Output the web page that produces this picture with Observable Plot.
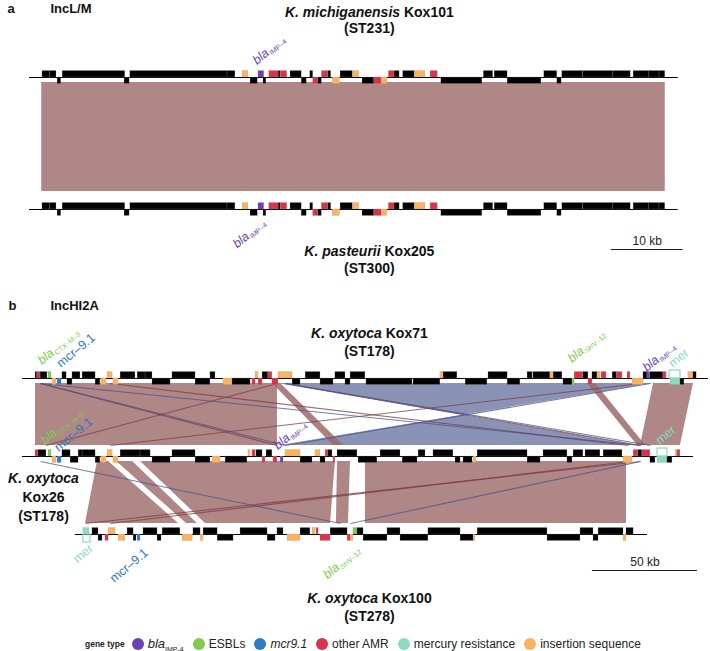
<!DOCTYPE html>
<html><head><meta charset="utf-8">
<script src="https://cdn.jsdelivr.net/npm/d3@7"></script>
<script src="https://cdn.jsdelivr.net/npm/@observablehq/plot@0.6"></script>
<style>
body{margin:0;background:#fff;font-family:"Liberation Sans",Arial,Helvetica,sans-serif;}
#fig{width:710px;}
#fig svg{display:block;}
.legend{display:flex;align-items:center;height:22px;padding-left:85px;font-size:12px;color:#222;white-space:nowrap;}
.legend .gt{font-weight:bold;font-size:8.5px;margin-right:7px;}
.legend .dot{display:inline-block;width:12px;height:12px;border-radius:50%;margin-right:4px;}
.legend .item{display:flex;align-items:center;margin-right:9px;}
.legend sub{font-size:7px;}
</style></head><body><div id="fig"></div><script>
// ---------------- colours ----------------
const GENE_COLORS = {b:"#000000", i:"#6b41b5", e:"#7dcc4c", m:"#2e7bbf", a:"#d7344c", h:"#89dcc2", s:"#fbb360"};
const BAND_COLORS = {f:"#ae8786", r:"#8a93b6", d:"#9d6a6a"};
const LINE_COLORS = {f:"#7d3b44", r:"#45528f"};

// ---------------- panel a data (kb) ----------------
const aLengths = [90.1, 90.1];
// [start, end, strand, type]
const kox101Genes = [[1.8,2.9,1,"b"],[2.9,3.75,1,"b"],[3.9,4.4,-1,"b"],[4.6,13.3,1,"b"],[13.2,13.9,-1,"b"],[14.0,27.5,1,"b"],[27.5,28.6,1,"b"],[29.6,30.4,1,"s"],[30.7,31.7,-1,"b"],[31.8,32.6,1,"i"],[32.5,32.9,-1,"b"],[33.3,34.6,1,"a"],[34.6,34.9,1,"b"],[34.9,35.8,1,"a"],[36.25,37.8,1,"b"],[37.8,38.5,-1,"b"],[39.0,39.4,1,"b"],[39.4,40.1,-1,"a"],[40.1,40.6,-1,"b"],[40.6,41.5,1,"a"],[41.5,41.9,1,"b"],[42.1,43.1,-1,"s"],[43.2,44.9,1,"b"],[45.0,45.8,1,"s"],[46.25,47.9,-1,"b"],[47.9,48.9,-1,"a"],[48.9,49.7,-1,"s"],[49.9,50.7,1,"a"],[50.7,51.4,1,"b"],[51.9,53.5,1,"b"],[53.5,55.0,1,"s"],[55.7,56.7,1,"a"],[57.2,62.9,-1,"b"],[63.1,64.4,1,"b"],[64.6,66.4,1,"b"],[66.4,71.1,-1,"b"],[71.5,73.3,1,"b"],[73.3,73.9,-1,"b"],[74.0,76.9,1,"b"],[76.9,81.1,1,"b"],[81.1,83.5,1,"b"],[83.9,86.0,1,"b"],[86.0,87.5,1,"b"],[87.5,88.3,1,"b"]];
const kox205Genes = [[1.8,2.9,1,"b"],[2.9,3.75,1,"b"],[3.9,4.4,-1,"b"],[4.6,13.3,1,"b"],[13.2,13.9,-1,"b"],[14.0,27.5,1,"b"],[27.5,28.6,1,"b"],[29.6,30.4,1,"s"],[30.7,31.7,-1,"b"],[31.8,32.6,1,"i"],[32.5,32.9,-1,"b"],[33.3,34.6,1,"a"],[34.6,34.9,1,"b"],[34.9,35.8,1,"a"],[36.25,37.8,1,"b"],[37.8,38.5,-1,"b"],[39.0,39.4,1,"b"],[39.4,40.1,-1,"a"],[40.1,40.6,-1,"b"],[40.6,41.5,1,"a"],[41.5,41.9,1,"b"],[42.1,43.1,-1,"s"],[43.2,44.9,1,"b"],[45.0,45.8,1,"s"],[46.25,47.9,-1,"b"],[47.9,48.9,-1,"a"],[48.9,49.7,-1,"s"],[49.9,50.7,1,"a"],[50.7,51.4,1,"b"],[51.9,53.5,1,"b"],[53.5,55.0,1,"s"],[55.7,56.7,1,"a"],[57.2,62.9,-1,"b"],[63.1,64.4,1,"b"],[64.6,66.4,1,"b"],[66.4,71.1,-1,"b"],[71.5,73.3,1,"b"],[73.3,73.9,-1,"b"],[74.0,76.9,1,"b"],[76.9,81.1,1,"b"],[81.1,83.5,1,"b"],[83.9,86.0,1,"b"],[86.0,87.5,1,"b"],[87.5,88.3,1,"b"]];
// [upper start, upper end, lower start, lower end, kind]
const aBands = [[1.7, 88.3, 1.7, 88.3, "f"]];
// [track, kb, text, gene type, side]
const aLabels = [[0, 31.3, "*bla*_{IMP–4}", "i", "up"], [1, 32.6, "*bla*_{IMP–4}", "i", "down"]];
const aScaleKb = [80.8, 10];

// ---------------- panel b data (kb) ----------------
const bStarts = [0, 0, 25.2];
const bEnds = [326.7, 319.5, 297.6];
const kox71Genes = [[6.2,7.1,1,"b"],[7.1,8.6,1,"a"],[8.6,11.9,1,"b"],[12.4,13.8,1,"e"],[14.3,16.2,-1,"s"],[16.7,18.6,-1,"m"],[19.0,21.0,1,"b"],[21.4,23.8,-1,"b"],[23.8,27.6,1,"b"],[28.6,34.8,1,"b"],[34.8,37.1,-1,"b"],[37.6,40.0,-1,"s"],[40.5,42.9,1,"s"],[43.3,45.7,-1,"s"],[46.7,53.8,1,"b"],[54.8,58.6,1,"b"],[58.6,61.9,1,"b"],[61.9,70.5,-1,"b"],[71.4,82.4,1,"b"],[82.4,89.5,-1,"b"],[89.5,91.9,1,"b"],[95.7,100.0,-1,"s"],[100.0,108.6,-1,"b"],[109.5,111.0,-1,"a"],[111.0,112.4,1,"s"],[112.4,114.3,-1,"a"],[114.3,117.1,1,"b"],[117.1,119.0,1,"a"],[119.0,121.9,-1,"a"],[121.9,128.6,1,"s"],[128.6,132.4,-1,"b"],[134.8,141.9,1,"b"],[141.9,148.1,-1,"b"],[149.0,153.8,1,"b"],[153.8,156.2,-1,"b"],[156.2,163.3,1,"b"],[163.8,185.7,-1,"b"],[186.2,199.0,-1,"b"],[199.0,200.5,1,"s"],[200.5,207.1,1,"b"],[211.0,221.4,-1,"b"],[221.9,231.0,1,"b"],[231.0,237.1,-1,"b"],[240.5,242.9,1,"b"],[243.3,251.4,1,"b"],[251.4,252.9,1,"s"],[252.9,257.1,1,"b"],[257.6,261.9,-1,"b"],[261.9,262.9,-1,"e"],[262.9,267.1,1,"a"],[267.1,269.5,1,"b"],[269.5,271.4,-1,"a"],[271.4,273.8,1,"b"],[273.8,275.2,1,"s"],[275.7,278.1,1,"a"],[281.0,282.9,1,"b"],[282.9,285.7,1,"a"],[288.1,289.5,1,"a"],[290.5,295.7,-1,"s"],[295.7,297.6,1,"b"],[297.6,299.0,1,"i"],[299.0,305.2,1,"b"],[305.2,306.7,1,"a"],[308.6,313.3,-1,"h"],[313.3,315.2,-1,"b"],[317.1,319.5,1,"s"],[319.5,321.0,1,"b"]];
const kox26Genes = [[6.2,7.6,1,"a"],[7.6,11.4,1,"b"],[12.4,13.8,1,"e"],[14.3,16.2,-1,"s"],[16.7,18.6,-1,"m"],[19.0,22.9,1,"b"],[22.9,26.7,-1,"b"],[26.7,28.6,1,"b"],[28.6,34.8,1,"b"],[34.8,37.1,-1,"b"],[37.6,40.0,-1,"s"],[40.5,42.9,1,"s"],[43.3,45.7,-1,"s"],[46.7,56.2,1,"b"],[56.2,61.0,1,"b"],[61.9,70.5,-1,"b"],[71.4,82.4,1,"b"],[82.4,89.5,-1,"b"],[90.5,94.3,-1,"s"],[96.7,107.1,-1,"b"],[107.6,108.6,1,"s"],[109.5,111.0,1,"a"],[111.4,114.3,1,"b"],[114.3,115.7,-1,"a"],[116.2,119.0,1,"b"],[119.5,121.4,-1,"a"],[122.9,124.3,-1,"i"],[125.2,132.4,1,"s"],[132.4,138.1,-1,"b"],[139.5,141.9,1,"s"],[141.9,144.3,-1,"b"],[144.3,145.7,1,"a"],[145.7,147.6,1,"b"],[148.1,149.0,-1,"a"],[150.0,159.5,1,"b"],[160.0,169.0,-1,"b"],[170.5,180.0,1,"b"],[181.0,188.1,-1,"b"],[188.6,191.9,1,"b"],[195.7,205.2,1,"b"],[206.2,208.6,-1,"b"],[210.0,214.3,-1,"b"],[214.8,216.2,-1,"s"],[216.7,240.5,1,"b"],[240.5,246.7,-1,"b"],[248.1,259.5,1,"b"],[259.5,261.9,-1,"b"],[262.4,267.1,1,"b"],[268.1,275.2,1,"b"],[276.7,285.7,1,"b"],[286.2,290.5,-1,"s"],[291.0,293.3,1,"a"],[293.3,295.2,1,"b"],[295.2,299.0,1,"a"],[299.0,301.4,-1,"b"],[302.4,307.1,-1,"h"],[307.1,309.5,-1,"b"],[311.0,311.9,1,"s"],[311.9,313.3,1,"a"]];
const kox100Genes = [[29.0,31.9,1,"h"],[33.3,36.2,1,"b"],[36.2,38.1,-1,"b"],[39.5,41.0,-1,"a"],[41.0,44.3,1,"s"],[45.7,49.0,-1,"s"],[50.0,52.9,1,"b"],[52.9,54.3,-1,"b"],[54.8,56.2,-1,"m"],[57.6,64.3,1,"b"],[64.3,66.2,-1,"b"],[66.7,75.2,1,"b"],[76.2,81.0,-1,"s"],[81.4,84.8,1,"b"],[84.8,86.2,-1,"s"],[86.2,92.9,1,"b"],[92.9,100.5,-1,"b"],[103.8,116.7,1,"b"],[116.7,120.5,-1,"b"],[121.4,124.3,1,"b"],[126.2,132.4,-1,"s"],[132.4,137.1,1,"b"],[138.1,139.5,1,"s"],[140.0,141.0,1,"a"],[141.9,146.7,-1,"a"],[146.7,154.8,1,"b"],[154.8,156.2,-1,"a"],[156.2,157.6,-1,"s"],[157.6,159.5,1,"e"],[159.5,162.4,1,"b"],[162.4,173.8,-1,"b"],[173.8,180.0,1,"b"],[180.0,193.3,-1,"b"],[193.3,208.6,1,"b"],[208.6,214.8,-1,"b"],[214.8,215.7,-1,"s"],[216.7,250.0,1,"b"],[250.0,265.7,-1,"b"],[265.7,271.9,1,"b"],[271.9,274.3,-1,"b"],[274.3,286.2,1,"b"],[286.2,287.6,-1,"s"],[287.6,291.0,1,"b"]];
// mer operon outlines: [track, start, end, strand]
const merOutlines = [[0, 308.1, 313.3, 1], [1, 302.4, 307.1, 1], [2, 29.0, 32.4, -1]];
// bands: [upper track, upper start, upper end, lower start, lower end, kind]
const bBands = [
  [0, 6.2, 121.4, 6.2, 121.4, "f"],
  [0, 121.4, 300.5, 292.9, 122.9, "r"],
  [0, 119.0, 122.9, 148.1, 152.9, "d"],
  [0, 269.0, 272.9, 292.9, 296.7, "d"],
  [0, 300.5, 319.5, 294.3, 313.3, "f"],
  [1, 35.7, 41.0, 30.0, 74.3, "f"],
  [1, 44.8, 52.4, 78.1, 83.3, "f"],
  [1, 56.2, 149.0, 87.1, 146.7, "f"],
  [1, 150.0, 156.2, 149.5, 155.2, "f"],
  [1, 163.3, 287.6, 163.3, 287.6, "f"]
];
// thin hits: [upper track, upper kb, lower kb, kind]
const bHits = [
  [0, 41.9, 288.6, "f"], [0, 125.2, 294.3, "f"], [0, 294.3, 41.9, "f"], [0, 8.6, 121.4, "f"], [0, 121.4, 11.0, "f"],
  [0, 8.6, 125.2, "r"], [0, 299.0, 125.2, "r"], [0, 125.2, 299.0, "r"], [0, 8.6, 294.3, "r"],
  [1, 294.3, 30.0, "f"], [1, 288.6, 41.9, "f"], [1, 8.6, 151.4, "r"], [1, 294.3, 156.2, "r"]
];
const bLabels = [
  [0, 8.3, "*bla*_{CTX–M–9}", "e", "up"], [0, 17.4, "mcr–9.1", "m", "up"],
  [0, 260.7, "*bla*_{SHV–12}", "e", "up"], [0, 296.4, "*bla*_{IMP–4}", "i", "up"], [0, 308.8, "mer", "h", "up"],
  [1, 9.8, "*bla*_{CTX–M–9}", "e", "up"], [1, 16.3, "mcr–9.1", "m", "up"],
  [1, 120.7, "*bla*_{IMP–4}", "i", "up"], [1, 302.6, "mer", "h", "up"],
  [2, 33.0, "mer", "h", "down"], [2, 59.2, "mcr–9.1", "m", "down"], [2, 160.2, "*bla*_{SHV–12}", "e", "down"]
];
const bScaleKb = [271.4, 50];

// legend
const legendTypes = ["i", "e", "m", "a", "h", "s"];
const legendNames = ["bla|IMP-4", "ESBLs", "mcr9.1", "other AMR", "mercury resistance", "insertion sequence"];

// ---------------- layout ----------------
const FONT = '"Liberation Sans", Arial, Helvetica, sans-serif';
const GENE_PX = 6.5;
const LABEL_ANGLE = -40;
const LABEL_SIZE = 12.5;
// label pixel offsets (perpendicular to track) for each label, same order as label arrays
const aLabelOff = [-15, 12];
const bLabelOff = [-16, -13, -18, -9, -13, -14, -7, -9, -14, 12.7, 17, 14];

function fillRich(sel, s) {
  const re = /\*([^*]+)\*|_\{([^}]+)\}|([^*_]+)/g;
  let m;
  while ((m = re.exec(s))) {
    if (m[1]) sel.append("tspan").attr("font-style", "italic").text(m[1]);
    else if (m[2]) sel.append("tspan").attr("font-size", "0.56em").attr("dx", "1").attr("dy", "0.3em").text(m[2]);
    else sel.append("tspan").text(m[3]);
  }
}

function buildPanel(cfg) {
  const {gap, tracks, height, xDomain, yRange, nTracks} = cfg;
  const Y = (t, px) => t + px / gap;
  const geneRows = [], backbone = [];
  tracks.forEach((tr, ti) => {
    backbone.push({x1: tr.start, x2: tr.end, y: ti});
    tr.genes.forEach(([s, e, strand, type]) => geneRows.push({x1: s, x2: e, y1: ti, y2: Y(ti, -strand * GENE_PX), fill: GENE_COLORS[type]}));
  });
  const bandRows = [];
  cfg.bands.forEach(([t, a1, a2, b1, b2, kind], i) => {
    const top = Y(t, cfg.bandTop), bot = Y(t + 1, cfg.bandBottom);
    bandRows.push({id: i, y: top, x1: a1, x2: a2, fill: BAND_COLORS[kind], kind});
    bandRows.push({id: i, y: bot, x1: b1, x2: b2, fill: BAND_COLORS[kind], kind});
  });
  const hitRows = (cfg.hits || []).map(([t, a, b, kind]) => ({x1: a, x2: b, y1: Y(t, cfg.bandTop), y2: Y(t + 1, cfg.bandBottom), stroke: LINE_COLORS[kind]}));
  const outlineRows = (cfg.outlines || []).map(([t, s, e, strand]) => ({x1: s, x2: e, y1: t, y2: Y(t, -strand * 8)}));
  const marks = [
    Plot.areaX(bandRows.filter(d => d.kind !== "d"), {y: "y", x1: "x1", x2: "x2", z: "id", fill: "fill", curve: "linear"}),
    Plot.areaX(bandRows.filter(d => d.kind === "d"), {y: "y", x1: "x1", x2: "x2", z: "id", fill: "fill", fillOpacity: 0.85, curve: "linear"}),
    Plot.link(hitRows, {x1: "x1", x2: "x2", y1: "y1", y2: "y2", stroke: "stroke", strokeWidth: 1.1, strokeOpacity: 0.75}),
    Plot.ruleY(backbone, {x1: "x1", x2: "x2", y: "y", stroke: "#000", strokeWidth: 1}),
    Plot.rect(geneRows, {x1: "x1", x2: "x2", y1: "y1", y2: "y2", fill: "fill", stroke: "#9a9a9a", strokeWidth: 0.25}),
    Plot.rect(outlineRows, {x1: "x1", x2: "x2", y1: "y1", y2: "y2", fill: "none", stroke: GENE_COLORS.h, strokeWidth: 1.2})
  ];
  cfg.texts.forEach(d => {
    marks.push(Plot.text([{x: d.x, y: Y(d.t, d.off), text: d.text}], {x: "x", y: "y", text: "text", fill: "#111", fontSize: d.size || 14, fontWeight: d.weight || "bold", textAnchor: d.anchor || "middle"}));
  });
  const sb = cfg.scaleBar;
  marks.push(Plot.ruleY([{x1: sb.kb[0], x2: sb.kb[0] + sb.kb[1], y: Y(sb.t, sb.lineOff)}], {x1: "x1", x2: "x2", y: "y", stroke: "#222", strokeWidth: 1}));
  marks.push(Plot.text([{x: sb.kb[0] + sb.kb[1] / 2, y: Y(sb.t, sb.textOff), text: sb.kb[1] + " kb"}], {x: "x", y: "y", text: "text", fontSize: 12, fill: "#222"}));
  const svg = Plot.plot({
    width: 710, height, margin: 0,
    x: {domain: xDomain, axis: null},
    y: {domain: [0, nTracks - 1], range: yRange, axis: null},
    color: {type: "identity"},
    style: {fontFamily: FONT, background: "white", overflow: "visible"},
    marks
  });
  // rich text (italic species names)
  d3.select(svg).selectAll("text").each(function () {
    const s = this.textContent;
    if (!/\*|_\{/.test(s)) return;
    const sel = d3.select(this); sel.text(null); fillRich(sel, s);
  });
  // rotated gene labels, positioned with the plot's own scales
  const sx = svg.scale ? svg.scale("x") : null, sy = svg.scale ? svg.scale("y") : null;
  const fx = sx && sx.apply ? v => sx.apply(v) : d3.scaleLinear(xDomain, [0, 710]);
  const fy = sy && sy.apply ? v => sy.apply(v) : d3.scaleLinear([0, nTracks - 1], yRange);
  const g = d3.select(svg).append("g").attr("font-family", FONT).attr("font-size", LABEL_SIZE);
  cfg.labels.forEach(([t, x, text, type, side], i) => {
    const px = fx(x), py = fy(Y(t, cfg.labelOff[i]));
    const el = g.append("text")
      .attr("transform", `translate(${px},${py}) rotate(${LABEL_ANGLE})`)
      .attr("text-anchor", side === "up" ? "start" : "end")
      .attr("dy", "0.32em")
      .attr("fill", GENE_COLORS[type]);
    fillRich(el, text);
  });
  return svg;
}

// panel a : 7.2 px per kb, origin at 29 px
const A_PPK = 7.2, A_ORIGIN = 29;
const svgA = buildPanel({
  gap: 132, nTracks: 2, height: 285, yRange: [77, 209],
  xDomain: [-A_ORIGIN / A_PPK, (710 - A_ORIGIN) / A_PPK],
  tracks: [{start: 0, end: aLengths[0], genes: kox101Genes}, {start: 0, end: aLengths[1], genes: kox205Genes}],
  bands: aBands.map(b => [0, ...b]), bandTop: 5, bandBottom: -18,
  labels: aLabels, labelOff: aLabelOff,
  texts: [
    {x: -3.06, t: 0, off: -69, text: "a", anchor: "start", size: 13},
    {x: 2.9, t: 0, off: -69, text: "IncL/M", anchor: "start", size: 13},
    {x: 47.2, t: 0, off: -65, text: "*K. michiganensis* Kox101"},
    {x: 47.2, t: 0, off: -49, text: "(ST231)"},
    {x: 47.2, t: 1, off: 42, text: "*K. pasteurii* Kox205"},
    {x: 47.2, t: 1, off: 59, text: "(ST300)"}
  ],
  scaleBar: {kb: aScaleKb, t: 1, lineOff: 40, textOff: 32}
});

// panel b : 2.1 px per kb, origin at 22 px
const B_PPK = 2.1, B_ORIGIN = 22;
const svgB = buildPanel({
  gap: 78, nTracks: 3, height: 348, yRange: [93, 249],
  xDomain: [-B_ORIGIN / B_PPK, (710 - B_ORIGIN) / B_PPK],
  tracks: [
    {start: bStarts[0], end: bEnds[0], genes: kox71Genes},
    {start: bStarts[1], end: bEnds[1], genes: kox26Genes},
    {start: bStarts[2], end: bEnds[2], genes: kox100Genes}
  ],
  bands: bBands, bandTop: 5, bandBottom: -11, hits: bHits, outlines: merOutlines,
  labels: bLabels, labelOff: bLabelOff,
  texts: [
    {x: -6.67, t: 0, off: -73, text: "b", anchor: "start", size: 13},
    {x: 13.3, t: 0, off: -73, text: "IncHI2A", anchor: "start", size: 13},
    {x: 165.2, t: 0, off: -45, text: "*K. oxytoca* Kox71"},
    {x: 165.2, t: 0, off: -27, text: "(ST178)"},
    {x: 10.0, t: 1, off: 22, text: "*K. oxytoca*"},
    {x: 10.0, t: 1, off: 41, text: "Kox26"},
    {x: 10.0, t: 1, off: 60, text: "(ST178)"},
    {x: 165.2, t: 2, off: 64, text: "*K. oxytoca* Kox100"},
    {x: 165.2, t: 2, off: 82, text: "(ST278)"}
  ],
  scaleBar: {kb: bScaleKb, t: 2, lineOff: 36, textOff: 28}
});

const fig = document.getElementById("fig");
fig.appendChild(svgA);
fig.appendChild(svgB);

// legend
const leg = document.createElement("div");
leg.className = "legend";
leg.innerHTML = '<span class="gt">gene type</span>' + legendTypes.map((t, i) => {
  const name = legendNames[i];
  let label;
  if (name.includes("|")) { const [a, b] = name.split("|"); label = `<span style="font-size:13px"><i>${a}</i><sub>${b}</sub></span>`; }
  else if (name === "mcr9.1") label = `<i>${name}</i>`;
  else label = name;
  return `<span class="item"><span class="dot" style="background:${GENE_COLORS[t]}"></span>${label}</span>`;
}).join("");
fig.appendChild(leg);
</script></body></html>
